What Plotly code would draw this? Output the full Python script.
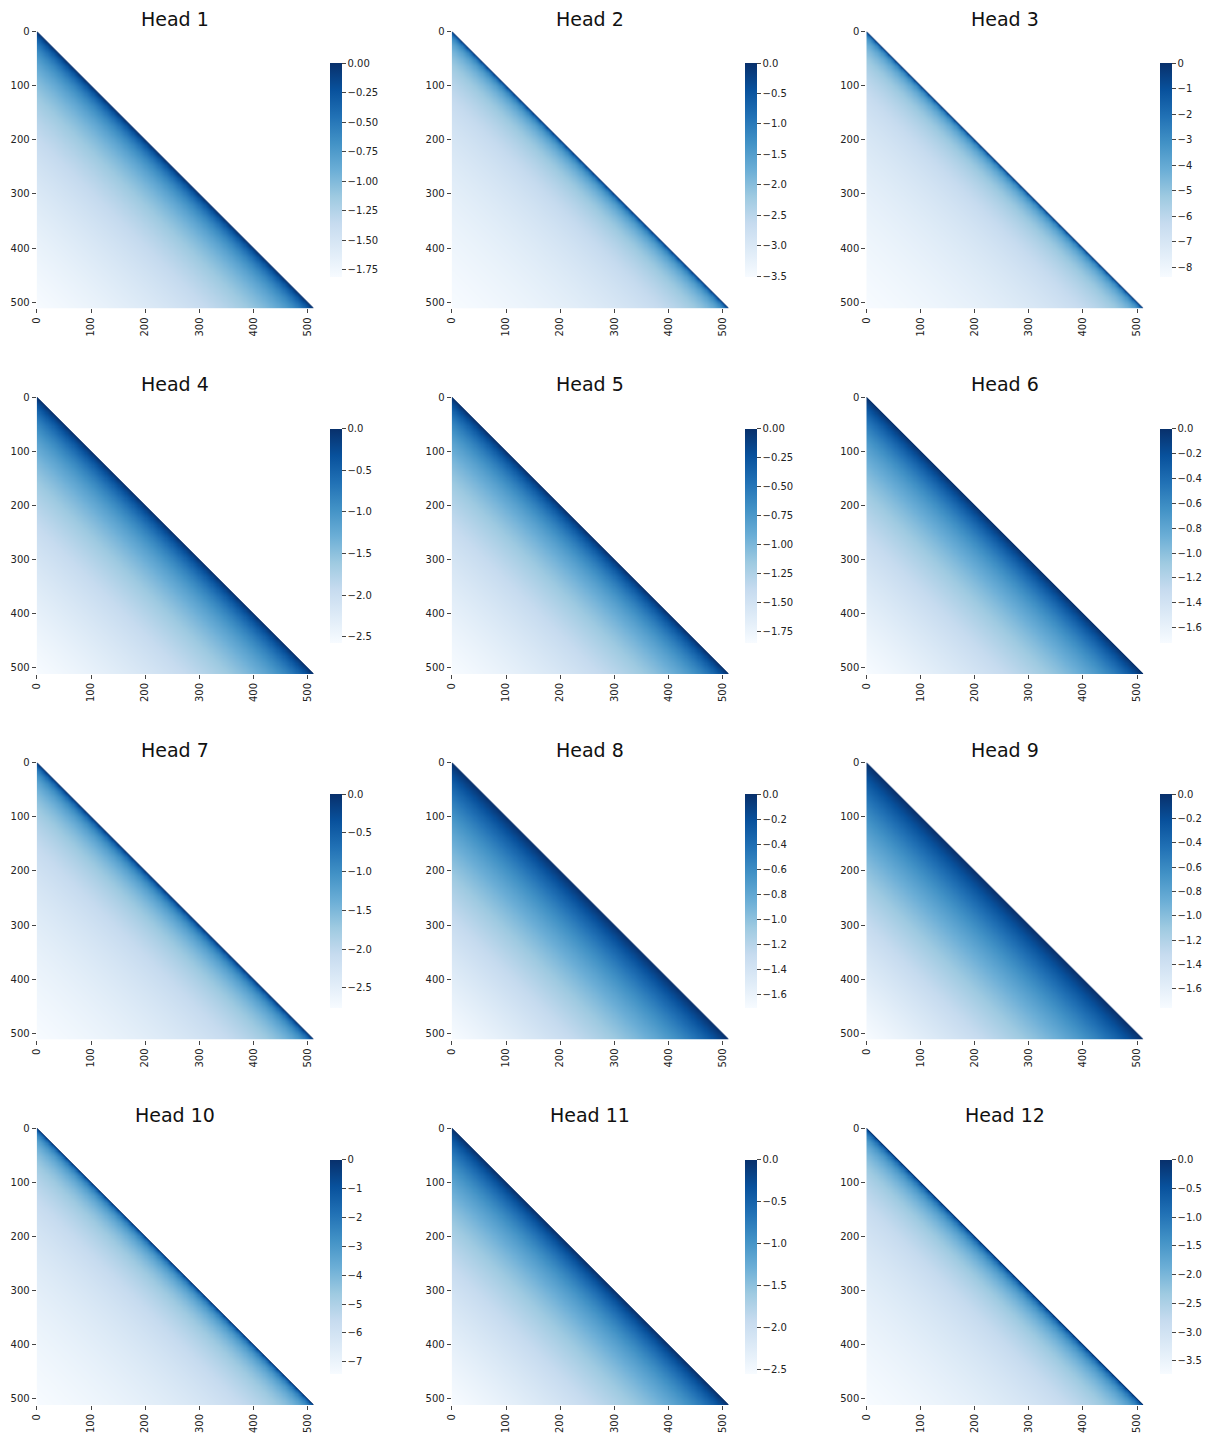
import numpy as np
import plotly.graph_objects as go

# ---------------- data ----------------
seq_len = 512
head_titles = ["Head %d" % k for k in range(1, 13)]
# most negative bias (bottom of each colour bar)
head_min = [-1.81, -3.51, -8.39, -2.57, -1.85, -1.72, -2.76, -1.71, -1.76, -7.41, -2.55, -3.72]
# how fast the bias falls off away from the diagonal (log-distance bias)
head_sharpness = [0.07, 0.5, 0.8, 0.03, 0.03, 0.02, 0.2, 0.01, 0.008, 0.4, 0.02, 0.3]
# colour bar tick spacing and number of decimals
cbar_dtick = [0.25, 0.5, 1, 0.5, 0.25, 0.2, 0.5, 0.2, 0.2, 1, 0.5, 0.5]
cbar_decimals = [2, 1, 0, 1, 2, 1, 1, 1, 1, 0, 1, 1]
axis_ticks = [0, 100, 200, 300, 400, 500]

blues = ["#f7fbff", "#deebf7", "#c6dbef", "#9ecae1", "#6baed6",
         "#4292c6", "#2171b5", "#08519c", "#08306b"]
colorscale = [[i / (len(blues) - 1), c] for i, c in enumerate(blues)]

# ---------------- layout geometry (pixels, page has an 8px body margin) ----------------
OFF = 8
W, H = 1212 - OFF, 1434 - OFF
col_left = [36.7 - OFF, 451.7 - OFF, 866.3 - OFF]
row_top = [31.4 - OFF, 397.0 - OFF, 762.5 - OFF, 1128.0 - OFF]
panel = 277.0
cbar_dx = 293.3
cbar_dy = 31.6
cbar_len = 214.0
title_dy = 18.7 - 31.4

pos = np.arange(seq_len)
dist = (pos[:, None] - pos[None, :]).astype(np.float64)
mask = dist < 0

fig = go.Figure()
layout = dict(
    width=W, height=H,
    margin=dict(l=0, r=0, t=0, b=0, autoexpand=False),
    paper_bgcolor="white", plot_bgcolor="white",
    font=dict(family="DejaVu Sans", size=10, color="#222222"),
    showlegend=False,
)
annotations = []

for k in range(12):
    r, c = divmod(k, 3)
    n = k + 1
    b = head_sharpness[k]
    z = head_min[k] * np.log1p(b * np.clip(dist, 0, None)) / np.log1p(b * (seq_len - 1))
    z[mask] = np.nan
    z = z.astype(np.float32)

    ax = "" if n == 1 else str(n)
    fig.add_trace(go.Heatmap(
        z=z, x=pos, y=pos,
        xaxis="x" + ax, yaxis="y" + ax,
        coloraxis="coloraxis" + ax,
        zsmooth="best",
        hoverinfo="skip",
    ))

    x0 = col_left[c] / W
    x1 = (col_left[c] + panel) / W
    y1 = 1 - row_top[r] / H
    y0 = 1 - (row_top[r] + panel) / H

    common = dict(showgrid=False, zeroline=False, showline=False,
                  ticks="outside", ticklen=4, tickwidth=1, tickcolor="#444444",
                  tickmode="array", tickvals=axis_ticks,
                  ticktext=[str(t) for t in axis_ticks],
                  tickfont=dict(size=10, color="#222222"))
    layout["xaxis" + ax] = dict(domain=[x0, x1], anchor="y" + ax,
                                range=[-0.5, seq_len - 0.5], tickangle=-90,
                                **common)
    layout["yaxis" + ax] = dict(domain=[y0, y1], anchor="x" + ax,
                                range=[seq_len - 0.5, -0.5], **common)

    cb_center = 1 - (row_top[r] + cbar_dy + cbar_len / 2) / H
    layout["coloraxis" + ax] = dict(
        colorscale=colorscale, cmin=head_min[k], cmax=0.0,
        colorbar=dict(
            x=(col_left[c] + cbar_dx) / W, xanchor="left", xref="paper",
            y=cb_center, yanchor="middle", yref="paper",
            len=cbar_len, lenmode="pixels",
            thickness=12, thicknessmode="pixels",
            xpad=0, ypad=0, outlinewidth=0,
            ticks="outside", ticklen=4, tickwidth=1, tickcolor="#444444",
            tick0=0, dtick=cbar_dtick[k],
            tickformat=".%df" % cbar_decimals[k],
            tickfont=dict(size=10, color="#222222"),
        ),
    )

    annotations.append(dict(
        text=head_titles[k], xref="paper", yref="paper",
        x=(col_left[c] + panel / 2) / W, y=1 - (row_top[r] + title_dy) / H,
        xanchor="center", yanchor="middle", showarrow=False,
        font=dict(size=19, color="#111111", family="DejaVu Sans"),
    ))

layout["annotations"] = annotations
fig.update_layout(**layout)
fig.write_html("out.html")
